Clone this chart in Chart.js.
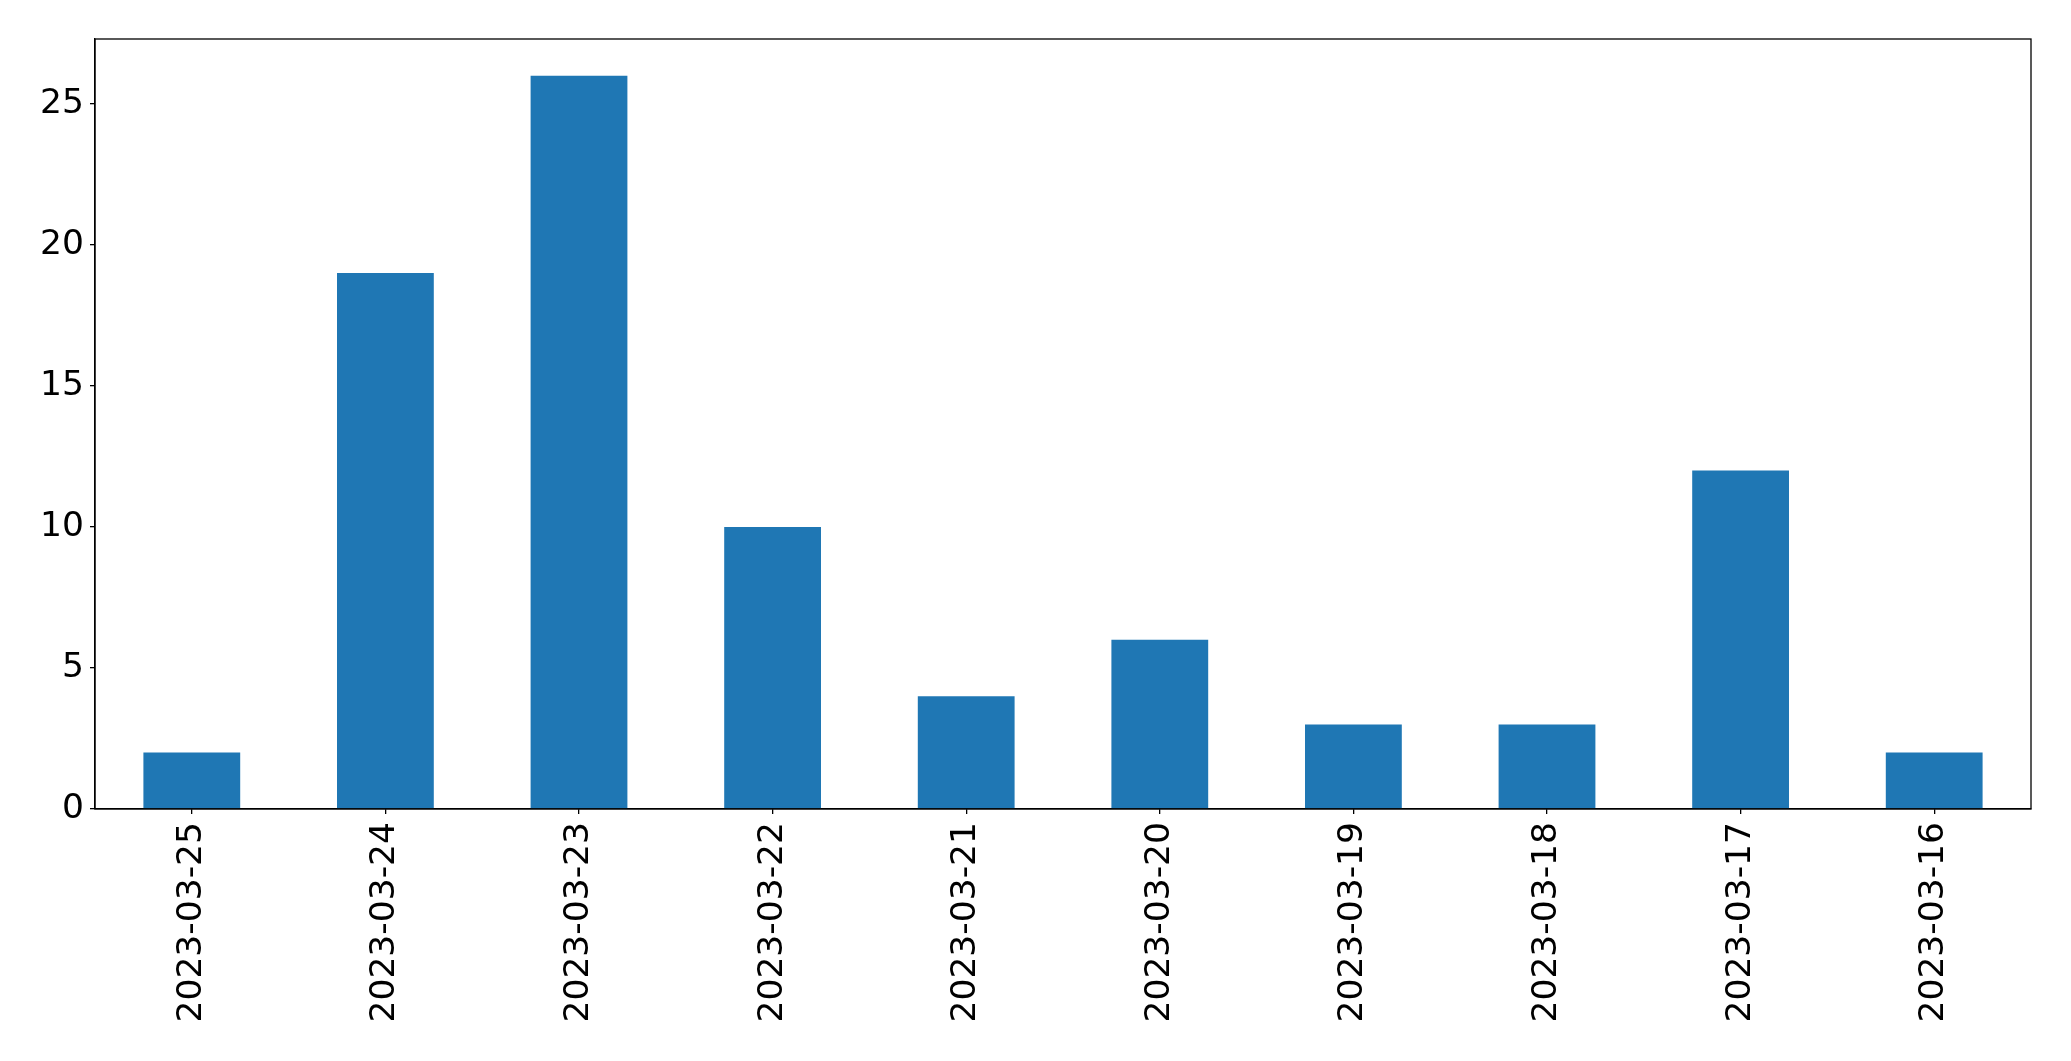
<!DOCTYPE html>
<html>
<head>
<meta charset="utf-8">
<script src="https://cdn.jsdelivr.net/npm/chart.js@4/dist/chart.umd.min.js"></script>
<style>
html,body{margin:0;padding:0;background:#fff;}
canvas{display:block;}
</style>
</head>
<body>
<canvas id="c" width="2071" height="1061" style="width:2071px;height:1061px"></canvas>
<script>
const categories = ["2023-03-25","2023-03-24","2023-03-23","2023-03-22","2023-03-21","2023-03-20","2023-03-19","2023-03-18","2023-03-17","2023-03-16"];
const counts = [2, 19, 26, 10, 4, 6, 3, 3, 12, 2];
const yTickStep = 5;

const FONT = {family: "'DejaVu Sans', sans-serif", size: 34.5};

const frame = {
  id: 'frame',
  afterDatasetsDraw(chart) {
    const a = chart.chartArea, ctx = chart.ctx;
    ctx.save();
    ctx.strokeStyle = '#000';
    ctx.lineWidth = 1.3;
    ctx.strokeRect(a.left, a.top, a.right - a.left, a.bottom - a.top);
    ctx.restore();
  }
};

new Chart(document.getElementById('c'), {
  type: 'bar',
  data: {
    labels: categories,
    datasets: [{
      data: counts,
      backgroundColor: '#1f77b4',
      borderWidth: 0,
      categoryPercentage: 1.0,
      barPercentage: 0.5
    }]
  },
  options: {
    responsive: false,
    animation: false,
    devicePixelRatio: 1,
    layout: {padding: {left: 0, right: 40, top: 39, bottom: 0}},
    plugins: {legend: {display: false}, tooltip: {enabled: false}},
    scales: {
      x: {
        offset: true,
        grid: {display: true, offset: false, drawOnChartArea: false, drawTicks: true, tickLength: 5, color: '#000', lineWidth: 1.3},
        border: {display: true, color: '#000', width: 1.3},
        ticks: {color: '#000', font: FONT, minRotation: 90, maxRotation: 90, padding: 8, autoSkip: false},
        afterFit(s) { s.height = 252; }
      },
      y: {
        min: 0,
        max: Math.max(...counts) * 1.05,
        grid: {display: true, drawOnChartArea: false, drawTicks: true, tickLength: 5, color: '#000', lineWidth: 1.3},
        border: {display: true, color: '#000', width: 1.3},
        ticks: {color: '#000', font: FONT, stepSize: yTickStep, padding: 6},
        afterBuildTicks(s) { s.ticks = s.ticks.filter(t => Math.abs(t.value / yTickStep - Math.round(t.value / yTickStep)) < 1e-9); },
        afterFit(s) { s.width = 95; }
      }
    }
  },
  plugins: [frame]
});
</script>
</body>
</html>
